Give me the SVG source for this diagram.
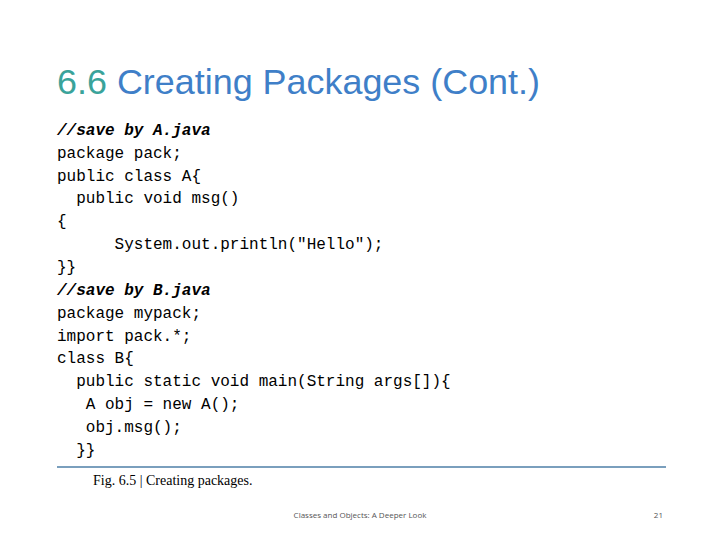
<svg xmlns="http://www.w3.org/2000/svg" width="720" height="540" viewBox="0 0 720 540">
<style>
.c{font-family:"Liberation Mono",monospace;font-size:16px;fill:#000;white-space:pre}
.i{font-weight:bold;font-style:italic}
</style>
<rect width="720" height="540" fill="#fff"/>
<text x="57" y="94" font-family="Liberation Sans,Arial,sans-serif" font-size="35" fill="#3f7fc8" textLength="483" lengthAdjust="spacingAndGlyphs"><tspan fill="#3aa39a">6.6</tspan> Creating Packages (Cont.)</text>
<g xml:space="preserve">
<text class="c i" x="57" y="135">//save by A.java</text>
<text class="c" x="57" y="158">package pack;</text>
<text class="c" x="57" y="181">public class A{</text>
<text class="c" x="57" y="203">  public void msg()</text>
<text class="c" x="57" y="226">{</text>
<text class="c" x="57" y="249">      System.out.println("Hello");</text>
<text class="c" x="57" y="272">}}</text>
<text class="c i" x="57" y="295">//save by B.java</text>
<text class="c" x="57" y="318">package mypack;</text>
<text class="c" x="57" y="341">import pack.*;</text>
<text class="c" x="57" y="363">class B{</text>
<text class="c" x="57" y="386">  public static void main(String args[]){</text>
<text class="c" x="57" y="409">   A obj = new A();</text>
<text class="c" x="57" y="432">   obj.msg();</text>
<text class="c" x="57" y="455">  }}</text>
</g>
<line x1="57" y1="467" x2="666" y2="467" stroke="#7a9fbd" stroke-width="2"/>
<text x="93" y="485" font-family="Liberation Serif,serif" font-size="14" fill="#000">Fig. 6.5 | Creating packages.</text>
<text x="360" y="518" text-anchor="middle" font-family="Open Sans,sans-serif" font-size="8" fill="#555">Classes and Objects: A Deeper Look</text>
<text x="663" y="518" text-anchor="end" font-family="Open Sans,sans-serif" font-size="8" fill="#555">21</text>
</svg>
